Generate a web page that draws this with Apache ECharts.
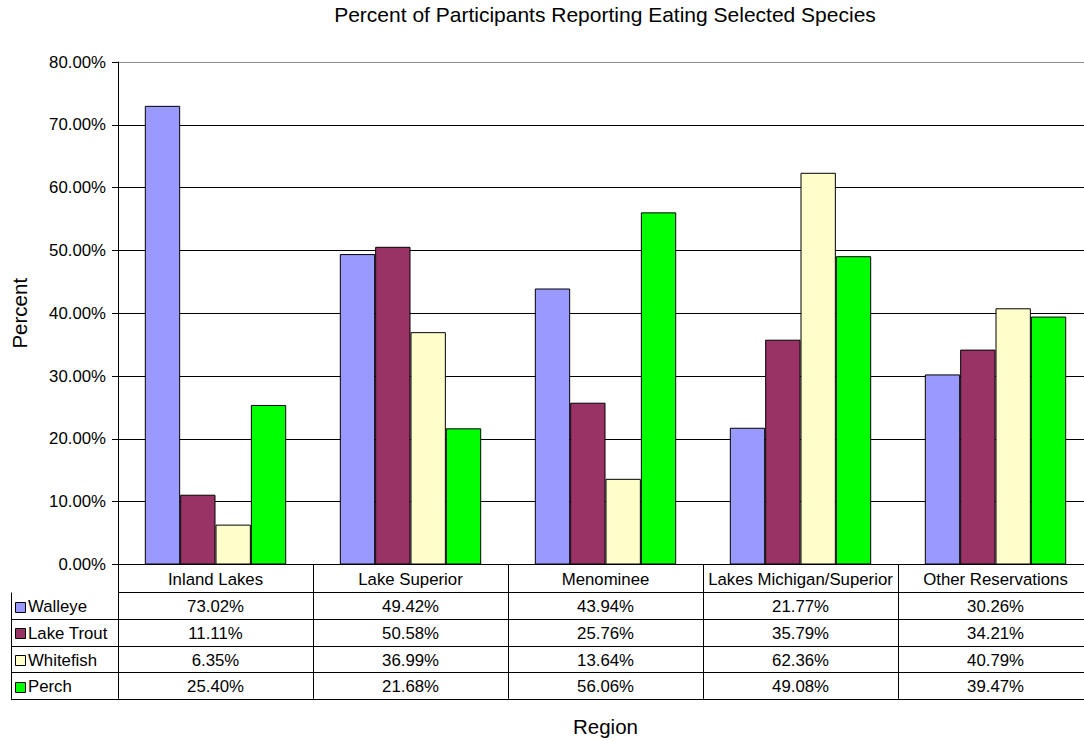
<!DOCTYPE html>
<html>
<head>
<meta charset="utf-8">
<script src="https://cdn.jsdelivr.net/npm/echarts@6/dist/echarts.min.js"></script>
<style>
  html, body { margin: 0; padding: 0; background: #fff; }
  #chart { width: 1084px; height: 741px; }
</style>
</head>
<body>
<div id="chart"></div>
<script>
// Regions (categories) and per-species percentages
const regions = ['Inland Lakes', 'Lake Superior', 'Menominee', 'Lakes Michigan/Superior', 'Other Reservations'];
const walleye   = [73.02, 49.42, 43.94, 21.77, 30.26];
const lakeTrout = [11.11, 50.58, 25.76, 35.79, 34.21];
const whitefish = [6.35, 36.99, 13.64, 62.36, 40.79];
const perch     = [25.40, 21.68, 56.06, 49.08, 39.47];
const speciesNames = ['Walleye', 'Lake Trout', 'Whitefish', 'Perch'];
const speciesData = [walleye, lakeTrout, whitefish, perch];
const speciesColors = ['#9999FF', '#993366', '#FFFFCC', '#00FF00'];
const yMin = 0, yMax = 80, yStep = 10;

const FONT = '"Liberation Sans", Arial, sans-serif';
const LABEL_SIZE = 16.8;
const gridBox = { left: 118, top: 62, width: 975, height: 502.5 };

const chart = echarts.init(document.getElementById('chart'), null, { renderer: 'svg' });

const splitColors = [];
for (let v = yMin; v <= yMax; v += yStep) splitColors.push(v === yMax ? '#8c8c8c' : '#000');

chart.setOption({
  animation: false,
  backgroundColor: '#fff',
  title: {
    text: 'Percent of Participants Reporting Eating Selected Species',
    left: 605, top: 4, padding: 0, textAlign: 'center',
    textStyle: { fontFamily: FONT, fontSize: 21, fontWeight: 'normal', color: '#000' }
  },
  grid: Object.assign({ containLabel: false, outerBoundsMode: 'none' }, gridBox),
  xAxis: {
    type: 'category',
    data: regions,
    name: 'Region',
    nameLocation: 'middle',
    nameGap: 151,
    nameTextStyle: { fontFamily: FONT, fontSize: 20.5, color: '#000' },
    axisLine: { show: true, lineStyle: { color: '#000', width: 1 } },
    axisTick: { show: false },
    axisLabel: { show: false },
    splitLine: { show: false }
  },
  yAxis: {
    type: 'value',
    min: yMin, max: yMax, interval: yStep,
    name: 'Percent',
    nameLocation: 'middle',
    nameRotate: 90,
    nameGap: 88,
    nameTextStyle: { fontFamily: FONT, fontSize: 20.5, color: '#000' },
    axisLine: { show: true, lineStyle: { color: '#000', width: 1 } },
    axisTick: { show: true, inside: false, length: 6, lineStyle: { color: '#000' } },
    axisLabel: {
      fontFamily: FONT, fontSize: LABEL_SIZE, color: '#000', margin: 12,
      formatter: v => v.toFixed(2) + '%'
    },
    splitLine: { show: true, lineStyle: { color: splitColors, width: 1 } }
  },
  series: speciesNames.map((name, i) => ({
    name,
    type: 'bar',
    data: speciesData[i],
    barGap: '0%',
    barCategoryGap: '27.5%',
    itemStyle: { color: speciesColors[i], borderColor: '#000', borderWidth: 1 }
  }))
});

// Data table under the plot, aligned with the category bands
function drawTable() {
  const els = [];
  const axisY = gridBox.top + gridBox.height;
  const headerH = 28;
  const rowH = 26.6;
  const legendLeft = 11;
  const left = gridBox.left;
  const right = gridBox.left + gridBox.width;
  const tableBottom = axisY + headerH + rowH * speciesNames.length;
  const textStyle = { font: LABEL_SIZE + 'px ' + FONT, fill: '#000' };
  const line = (x1, y1, x2, y2) => els.push({
    type: 'line', silent: true,
    shape: { x1, y1, x2, y2 },
    style: { stroke: '#000', lineWidth: 1 }
  });

  const centers = regions.map((r, i) => chart.convertToPixel({ xAxisIndex: 0 }, i));
  const band = gridBox.width / regions.length;

  // horizontal rules
  line(left, axisY + headerH, right, axisY + headerH);
  for (let r = 1; r <= speciesNames.length; r++) {
    const y = Math.round(axisY + headerH + rowH * r) + 0.5;
    line(legendLeft, y, right, y);
  }
  // vertical rules
  line(left + 0.5, axisY, left + 0.5, tableBottom);
  line(legendLeft + 0.5, axisY + headerH, legendLeft + 0.5, tableBottom);
  centers.forEach(c => {
    const x = Math.round(c + band / 2) + 0.5;
    line(x, axisY, x, tableBottom);
  });

  // header row: region names
  regions.forEach((r, i) => {
    els.push({ type: 'text', silent: true, x: centers[i], y: axisY + headerH / 2 + 1,
      style: Object.assign({ text: r, align: 'center', verticalAlign: 'middle' }, textStyle) });
  });

  // one row per species: legend key + values
  speciesNames.forEach((name, s) => {
    const cy = axisY + headerH + rowH * s + rowH / 2 + 1;
    els.push({ type: 'rect', silent: true,
      shape: { x: 15.5, y: Math.round(cy - 5) + 0.5, width: 10, height: 10 },
      style: { fill: speciesColors[s], stroke: '#000', lineWidth: 1 } });
    els.push({ type: 'text', silent: true, x: 28, y: cy,
      style: Object.assign({ text: name, align: 'left', verticalAlign: 'middle' }, textStyle) });
    speciesData[s].forEach((v, i) => {
      els.push({ type: 'text', silent: true, x: centers[i], y: cy,
        style: Object.assign({ text: v.toFixed(2) + '%', align: 'center', verticalAlign: 'middle' }, textStyle) });
    });
  });

  chart.setOption({ graphic: { elements: els } });
}
drawTable();
</script>
</body>
</html>
